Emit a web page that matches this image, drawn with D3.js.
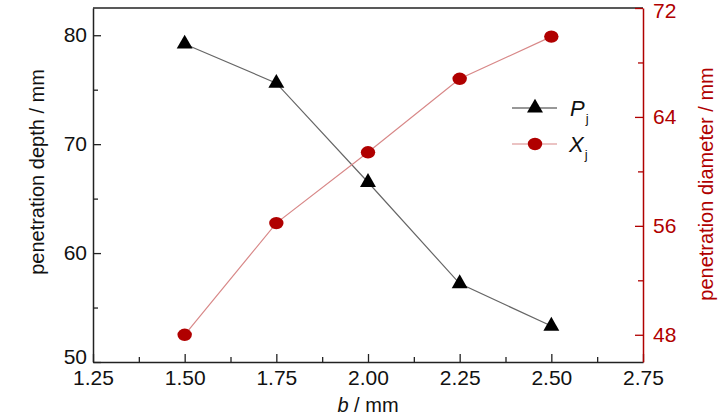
<!DOCTYPE html>
<html>
<head>
<meta charset="utf-8">
<script src="https://cdn.jsdelivr.net/npm/d3@7"></script>
<style>
  body { margin: 0; background: #fff; }
  svg text { font-family: "Liberation Sans Narrow", "Arial Narrow", "Liberation Sans", Arial, sans-serif; }
</style>
</head>
<body>
<div id="chart"></div>
<script>
// data
const bValues = [1.50, 1.75, 2.00, 2.25, 2.50];
const depthP = [79.2, 75.6, 66.5, 57.2, 53.3];
const diameterX = [48.0, 56.2, 61.4, 66.8, 69.9];

const xTicks = [1.25, 1.50, 1.75, 2.00, 2.25, 2.50, 2.75];
const leftTicks = [50, 60, 70, 80];
const rightTicks = [48, 56, 64, 72];

const red = "#b00000";

const margin = {top: 8, right: 85, bottom: 54, left: 93},
    width = 728 - margin.left - margin.right,
    height = 416 - margin.top - margin.bottom;

const svg = d3.select("#chart")
    .append("svg")
    .attr("width", 728)
    .attr("height", 416)
    .append("g")
    .attr("transform", "translate(" + margin.left + "," + margin.top + ")");

const x = d3.scaleLinear().domain([1.25, 2.75]).range([0, width]);
const yL = d3.scaleLinear().domain([50, 82.5]).range([height, 0]);
const yR = d3.scaleLinear().domain([46, 72]).range([height, 0]);

// top frame line
svg.append("line")
    .attr("x1", 0).attr("x2", width)
    .attr("y1", 0).attr("y2", 0)
    .attr("stroke", "#222").attr("stroke-width", 1.5);

// minor ticks
const xMinor = d3.axisBottom(x).tickValues([1.375, 1.625, 1.875, 2.125, 2.375, 2.625])
    .tickSize(-5).tickFormat("");
svg.append("g").attr("transform", `translate(0,${height})`).call(xMinor)
    .call(g => g.select(".domain").remove())
    .selectAll("line").attr("stroke", "#222").attr("stroke-width", 1.3);

const lMinor = d3.axisLeft(yL).tickValues([55, 65, 75]).tickSize(-5).tickFormat("");
svg.append("g").call(lMinor)
    .call(g => g.select(".domain").remove())
    .selectAll("line").attr("stroke", "#222").attr("stroke-width", 1.3);

const rMinor = d3.axisRight(yR).tickValues([52, 60, 68]).tickSize(-5).tickFormat("");
svg.append("g").attr("transform", `translate(${width},0)`).call(rMinor)
    .call(g => g.select(".domain").remove())
    .selectAll("line").attr("stroke", red).attr("stroke-width", 1.3);

// x axis
const xAxis = svg.append("g")
    .attr("transform", `translate(0,${height})`)
    .call(d3.axisBottom(x).tickValues(xTicks).tickSize(-8).tickSizeOuter(0)
        .tickFormat(d3.format(".2f")));
xAxis.select(".domain").attr("stroke", "#222").attr("stroke-width", 1.5);
xAxis.selectAll(".tick line").attr("stroke", "#222").attr("stroke-width", 1.3);
xAxis.selectAll("text")
    .attr("font-size", "21")
    .attr("fill", "#111")
    .attr("dy", "0.95em")
    .attr("y", 3);

// left axis
const lAxis = svg.append("g")
    .call(d3.axisLeft(yL).tickValues(leftTicks).tickSize(-8).tickSizeOuter(0));
lAxis.select(".domain").attr("stroke", "#222").attr("stroke-width", 1.5);
lAxis.selectAll(".tick line").attr("stroke", "#222").attr("stroke-width", 1.3);
lAxis.selectAll("text")
    .attr("font-size", "21")
    .attr("fill", "#111")
    .attr("x", -6)
    .attr("y", d => d === 50 ? -5 : 0);

// right axis
const rAxis = svg.append("g")
    .attr("transform", `translate(${width},0)`)
    .call(d3.axisRight(yR).tickValues(rightTicks).tickSize(-8).tickSizeOuter(0));
rAxis.select(".domain").attr("stroke", red).attr("stroke-width", 1.5);
rAxis.selectAll(".tick line").attr("stroke", red).attr("stroke-width", 1.3);
rAxis.selectAll("text")
    .attr("font-size", "21")
    .attr("fill", red)
    .attr("x", 10)
    .attr("y", d => d === 72 ? 3 : 0);

// lines
const lineP = d3.line().x((d, i) => x(bValues[i])).y(d => yL(d));
const lineX = d3.line().x((d, i) => x(bValues[i])).y(d => yR(d));

svg.append("path")
    .datum(depthP)
    .attr("d", lineP)
    .attr("fill", "none")
    .attr("stroke", "#666")
    .attr("stroke-width", 1.2);

svg.append("path")
    .datum(diameterX)
    .attr("d", lineX)
    .attr("fill", "none")
    .attr("stroke", "#d88888")
    .attr("stroke-width", 1.2);

// markers
const tri = d3.symbol().type(d3.symbolTriangle).size(110);
svg.selectAll(".triP")
    .data(depthP)
    .join("path")
    .attr("class", "triP")
    .attr("d", tri)
    .attr("transform", (d, i) => `translate(${x(bValues[i])},${yL(d)})`)
    .attr("fill", "#000");

svg.selectAll(".dotX")
    .data(diameterX)
    .join("ellipse")
    .attr("class", "dotX")
    .attr("cx", (d, i) => x(bValues[i]))
    .attr("cy", d => yR(d))
    .attr("rx", 7.2)
    .attr("ry", 6.2)
    .attr("fill", red);

// legend
const leg = svg.append("g").attr("transform", "translate(419,100)");
leg.append("line").attr("x1", 0).attr("x2", 45).attr("y1", 0).attr("y2", 0)
    .attr("stroke", "#333").attr("stroke-width", 1.2);
leg.append("path").attr("d", tri).attr("transform", "translate(23,0)").attr("fill", "#000");
leg.append("line").attr("x1", 0).attr("x2", 45).attr("y1", 36).attr("y2", 36)
    .attr("stroke", "#d88888").attr("stroke-width", 1.2);
leg.append("ellipse").attr("cx", 23).attr("cy", 36).attr("rx", 7.2).attr("ry", 6.2).attr("fill", red);

const tP = leg.append("text").attr("x", 58).attr("y", 8).attr("font-size", "22").attr("fill", "#111");
tP.append("tspan").attr("font-style", "italic").text("P");
tP.append("tspan").attr("font-size", "13").attr("dy", 7).attr("dx", 1).text("j");
const tX = leg.append("text").attr("x", 57).attr("y", 44).attr("font-size", "22").attr("fill", "#111");
tX.append("tspan").attr("font-style", "italic").text("X");
tX.append("tspan").attr("font-size", "13").attr("dy", 7).attr("dx", 1).text("j");

// axis titles
svg.append("text")
    .attr("text-anchor", "middle")
    .attr("transform", "rotate(-90)")
    .attr("x", -164)
    .attr("y", -49)
    .attr("font-size", "20")
    .attr("fill", "#111")
    .text("penetration depth / mm");

svg.append("text")
    .attr("text-anchor", "middle")
    .attr("transform", "rotate(-90)")
    .attr("x", -176)
    .attr("y", width + 70)
    .attr("font-size", "20")
    .attr("fill", red)
    .text("penetration diameter / mm");

const xt = svg.append("text")
    .attr("text-anchor", "middle")
    .attr("x", x(2.0))
    .attr("y", height + 50)
    .attr("font-size", "20")
    .attr("fill", "#111");
xt.append("tspan").attr("font-style", "italic").text("b");
xt.append("tspan").text(" / mm");
</script>
</body>
</html>
